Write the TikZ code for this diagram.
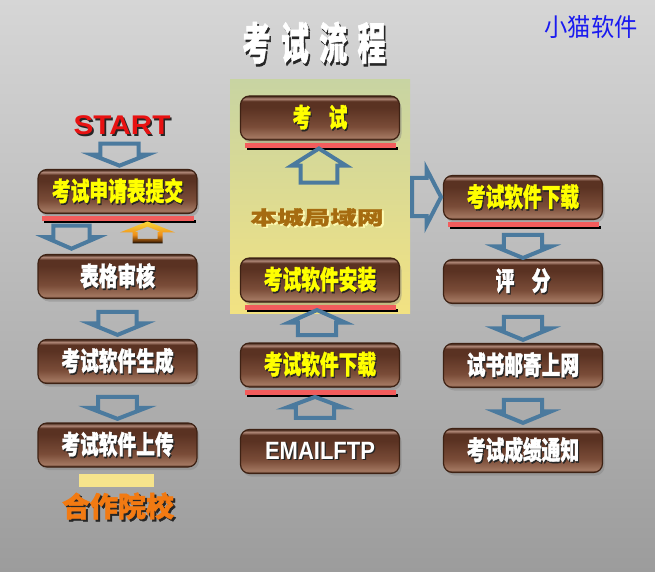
\documentclass[tikz,border=0pt]{standalone}
\usepackage{fontspec}
\usepackage{graphicx}
\usetikzlibrary{positioning,shadows}
\newfontfamily\cjk{Noto Sans CJK SC}[BoldFeatures={FakeBold=1.6}]
\newfontfamily\arialfont{Liberation Sans}

\definecolor{bgtop}{HTML}{D6D6D6}
\definecolor{bgbot}{HTML}{9C9C9C}
\definecolor{bxedge}{HTML}{3E2214}
\definecolor{bxlow}{HTML}{A27660}
\definecolor{bxmid}{HTML}{7A4C38}
\definecolor{bxtop}{HTML}{5A3222}
\definecolor{bxgloss}{HTML}{B08878}
\definecolor{arrowblue}{HTML}{4B7A9E}
\definecolor{boxyellow}{HTML}{FFFF00}
\definecolor{barred}{HTML}{F25C5C}
\definecolor{lantop}{HTML}{C8D4A2}
\definecolor{lanmid}{HTML}{EADF8E}
\definecolor{lanbot}{HTML}{F2E282}
\definecolor{lantext}{HTML}{A66C10}
\definecolor{startred}{HTML}{E81212}
\definecolor{schoolorange}{HTML}{F27A12}
\definecolor{stripyellow}{HTML}{F6E48C}
\definecolor{brandblue}{HTML}{1A1AF0}
\definecolor{backtop}{HTML}{FAD838}
\definecolor{backmid}{HTML}{F09018}
\definecolor{backdark}{HTML}{6A3808}

\pgfdeclareverticalshading{boxshade}{100bp}{color(0bp)=(bxedge); color(25bp)=(bxedge); color(28bp)=(bxlow); color(40bp)=(bxmid); color(62bp)=(bxtop); color(69bp)=(bxtop); color(72bp)=(bxgloss); color(75bp)=(bxedge); color(100bp)=(bxedge)}
\pgfdeclareverticalshading{backshade}{100bp}{color(0bp)=(black); color(25bp)=(black); color(31bp)=(backdark); color(45bp)=(backmid); color(75bp)=(backtop); color(100bp)=(backtop)}

\newcommand\shtext[3][1.6pt]{\rlap{\kern#1\raisebox{-#1}{\color{black!85}#3}}{\color{#2}#3}}
\newcommand\glowtext[2]{\rlap{\kern1.4pt\raisebox{-1.4pt}{\color{white!70!yellow}#2}}{\color{#1}#2}}
\newcommand\boxlabel[2]{\scalebox{0.72}[1]{\shtext{#1}{#2}}}
\newcommand\redbar[1]{%
  \fill[black] ([shift={(7pt,-6pt)}]#1.south west) rectangle ([shift={(-2pt,-9pt)}]#1.south east);
  \fill[barred] ([shift={(5pt,-2pt)}]#1.south west) rectangle ([shift={(-4pt,-7pt)}]#1.south east);
}

\tikzset{
  stepbox/.style={rounded corners=9pt, draw=bxedge, line width=1.2pt, shading=boxshade,
    minimum width=159pt, minimum height=44pt, inner sep=0pt,
    drop shadow={shadow xshift=2pt, shadow yshift=-3pt, opacity=0.4},
    font=\cjk\bfseries\fontsize{26}{26}\selectfont},
  lanpanel/.style={minimum width=180pt, minimum height=233pt, inner sep=0pt,
    top color=lantop, middle color=lanmid, bottom color=lanbot},
  plaintext/.style={inner sep=0pt},
  pics/blockarrow/.style 2 args={code={
    \draw[arrowblue, line width=4pt]
      ({-#1/2},{-0.34*#2}) -- (0,{-0.34*#2}) -- (0,{-#2/2}) -- ({#1/2},0)
      -- (0,{#2/2}) -- (0,{0.34*#2}) -- ({-#1/2},{0.34*#2}) -- cycle;
  }},
  pics/backarrow/.style={code={
    \shade[shading=backshade, even odd rule]
      (0,-11) -- (27.5,0) -- (15,0) -- (15,11) -- (-15,11) -- (-15,0) -- (-27.5,0) -- cycle
      (0,-5.8) -- (13,-0.6) -- (10,-0.6) -- (10,6.5) -- (-10,6.5) -- (-10,-0.6) -- (-13,-0.6) -- cycle;
  }}
}

\begin{document}
\begin{tikzpicture}[x=1pt, y=-1pt]
\useasboundingbox (0,0) rectangle (655,572);
\shade[top color=bgtop, bottom color=bgbot] (0,0) rectangle (655,572);

% heading
\node[plaintext, font=\cjk\bfseries\fontsize{44}{44}\selectfont] (title) at (314,44)
  {\scalebox{0.64}[1]{\shtext[2.5pt]{white}{考\hspace{16pt}试\hspace{16pt}流\hspace{16pt}程}}};
\node[plaintext, font=\cjk\fontsize{25}{25}\selectfont, text=brandblue] (brand) at (591,27)
  {\scalebox{0.93}[1]{小猫软件}};

% local network panel
\node[lanpanel] (lan) at (320,196.5) {};
\node[plaintext, font=\cjk\bfseries\fontsize{19}{19}\selectfont] (lanlabel) at (317,218)
  {\scalebox{1.4}[1]{\glowtext{lantext}{本城局域网}}};

% school side
\node[plaintext, font=\arialfont\bfseries\fontsize{27}{27}\selectfont] (start) at (122,126)
  {\scalebox{1.1}[1]{\shtext[1.5pt]{startred}{START}}};
\node[stepbox] (b1) at (117.5,191.5) {\boxlabel{boxyellow}{考试申请表提交}};
\node[stepbox] (b2) at (117.5,276.5) {\boxlabel{white}{表格审核}};
\node[stepbox] (b3) at (117.5,361.5) {\boxlabel{white}{考试软件生成}};
\node[stepbox] (b4) at (117.5,445) {\boxlabel{white}{考试软件上传}};
\fill[stripyellow] (79,474) rectangle (154,487);
\node[plaintext, font=\cjk\bfseries\fontsize{28}{28}\selectfont] (school) at (118,507)
  {\shtext[2pt]{schoolorange}{合作院校}};

% middle column
\node[stepbox] (m1) at (320,118) {\boxlabel{boxyellow}{考\hspace{24pt}试}};
\node[stepbox] (m2) at (320,280) {\boxlabel{boxyellow}{考试软件安装}};
\node[stepbox] (m3) at (320,365) {\boxlabel{boxyellow}{考试软件下载}};
\node[stepbox, font=\arialfont\bfseries\fontsize{25}{25}\selectfont] (m4) at (320,451.5)
  {\scalebox{0.88}[1]{\shtext{white}{EMAILFTP}}};

% right column
\node[stepbox] (r1) at (523,197.5) {\boxlabel{boxyellow}{考试软件下载}};
\node[stepbox] (r2) at (523,281.5) {\boxlabel{white}{评\hspace{24pt}分}};
\node[stepbox] (r3) at (523,365.5) {\boxlabel{white}{试书邮寄上网}};
\node[stepbox] (r4) at (523,450.5) {\boxlabel{white}{考试成绩通知}};

\redbar{b1}
\redbar{m1}
\redbar{m2}
\redbar{m3}
\redbar{r1}

% arrows
\path (start.south) -- (b1.north) pic[pos=0.56, rotate=-90] {blockarrow={22}{56}};
\path ([xshift=-46pt]b1.south) -- ([xshift=-46pt]b2.north) pic[pos=0.58, rotate=-90] {blockarrow={23}{53}};
\path ([xshift=30pt]b2.north) -- ([xshift=30pt]b1.south) pic[pos=0.54] {backarrow};
\path (b2.south) -- (b3.north) pic[pos=0.61, rotate=-90] {blockarrow={23}{56}};
\path (b3.south) -- (b4.north) pic[pos=0.62, rotate=-90] {blockarrow={22}{57}};

\path ([xshift=-5pt]m4.north) -- ([xshift=-5pt]m3.south) pic[pos=0.52, rotate=90] {blockarrow={21}{56}};
\path ([xshift=-3pt]m3.north) -- ([xshift=-3pt]m2.south) pic[pos=0.5, rotate=90] {blockarrow={25}{56}};
\path (lanlabel.north) -- (m1.south) pic[pos=0.63, rotate=90] {blockarrow={34}{54}};

\path (lan.east) -- (r1.west) pic[midway] {blockarrow={29}{56}};

\path (r1.south) -- (r2.north) pic[pos=0.68, rotate=-90] {blockarrow={23}{56}};
\path (r2.south) -- (r3.north) pic[pos=0.625, rotate=-90] {blockarrow={23}{56}};
\path (r3.south) -- (r4.north) pic[pos=0.585, rotate=-90] {blockarrow={23}{56}};

\end{tikzpicture}
\end{document}
